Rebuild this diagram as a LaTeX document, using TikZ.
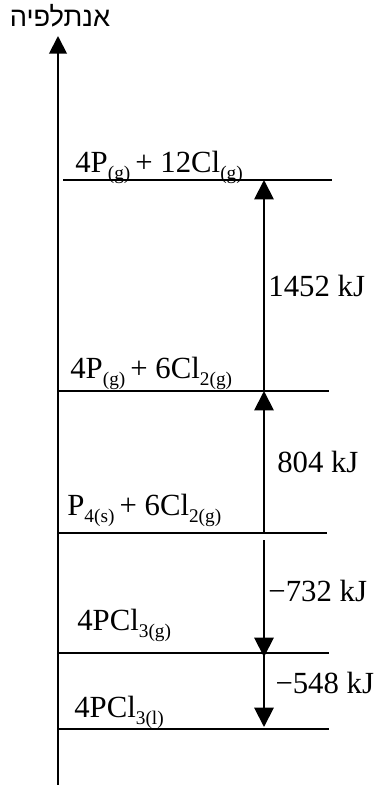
\documentclass[tikz,border=0pt]{standalone}
\usepackage{fontspec}
\setmainfont{Liberation Serif}
\newfontfamily\hebfont[Script=Hebrew]{Liberation Sans}
\TeXXeTstate=1
\usetikzlibrary{arrows.meta}
\newcommand{\phs}[1]{\raisebox{-4pt}{\fontsize{11}{11}\selectfont #1}}

\begin{document}
\begin{tikzpicture}[x=0.02cm,y=-0.02cm,font=\fontsize{17.5}{21}\selectfont,
  lvl/.style={line width=1.1pt},
  dh/.style={line width=1.1pt,-{Triangle[width=11pt,length=11pt]}},
  dhlabel/.style={right,inner sep=2pt}]
  \useasboundingbox (0,0) rectangle (373,785);
  % enthalpy axis
  \coordinate (axbot) at (58,785);
  \coordinate (axtop) at (58,36);
  \draw[line width=1.1pt,-{Triangle[width=10pt,length=10pt]}] (axbot) -- (axtop);
  \node[font=\hebfont\fontsize{15.5}{18}\selectfont] (axlabel) at (60,16) {\beginR אנתלפיה\endR};
  % levels
  \draw[lvl] (63,180) -- (332,180);
  \draw[lvl] (58,391) -- (329,391);
  \draw[lvl] (58,533) -- (327,533);
  \draw[lvl] (58,653) -- (329,653);
  \draw[lvl] (58,729) -- (329,729);
  \node[anchor=base west,inner sep=0pt] (atoms) at (75,172) {4P\phs{(g)}\,+ 12Cl\phs{(g)}};
  \node[anchor=base west,inner sep=0pt] (gas) at (70,378) {4P\phs{(g)}\,+ 6Cl\phs{2(g)}};
  \node[anchor=base west,inner sep=0pt] (elem) at (67,515) {P\phs{4(s)}\,+ 6Cl\phs{2(g)}};
  \node[anchor=base west,inner sep=0pt] (pclg) at (77,630) {4PCl\phs{3(g)}};
  \node[anchor=base west,inner sep=0pt] (pcll) at (74,717) {4PCl\phs{3(l)}};
  % steps
  \coordinate (e1) at (264,180);
  \coordinate (e2) at (264,391);
  \coordinate (e3) at (264,533);
  \coordinate (s3) at (264,540);
  \coordinate (e4) at (264,657);
  \coordinate (s4) at (264,653);
  \coordinate (e5) at (264,727);
  \draw[dh] (e2) -- (e1) node[midway,dhlabel] {1452 kJ};
  \draw[dh] (e3) -- (e2) node[midway,dhlabel,xshift=5pt] {804 kJ};
  \draw[dh] (s3) -- (e4) node[midway,dhlabel,yshift=4pt] {−732 kJ};
  \draw[dh] (s4) -- (e5) node[midway,dhlabel,xshift=4pt,yshift=4pt] {−548 kJ};
\end{tikzpicture}
\end{document}
